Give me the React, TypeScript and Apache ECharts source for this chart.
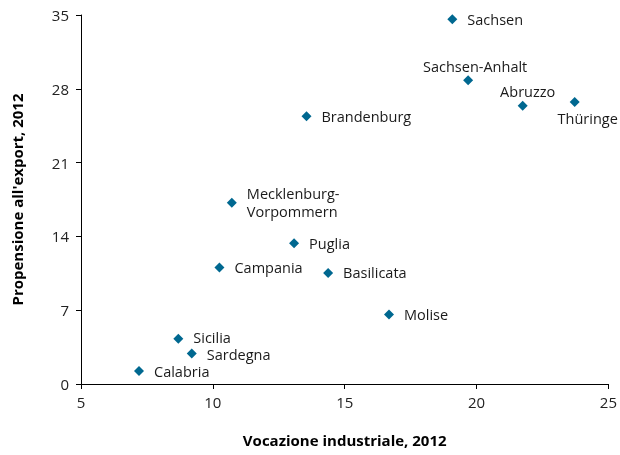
import React, { useEffect, useRef } from "react";
import * as echarts from "echarts";

const regions = ["Sachsen", "Sachsen-Anhalt", "Abruzzo", "Thüringe", "Brandenburg", "Mecklenburg-\nVorpommern", "Puglia", "Campania", "Basilicata", "Molise", "Sicilia", "Sardegna", "Calabria"];
const vocazione = [19.08, 19.68, 21.75, 23.72, 13.55, 10.72, 13.08, 10.25, 14.37, 16.68, 8.69, 9.2, 7.2];
const propensione = [34.6, 28.8, 26.4, 26.75, 25.4, 17.2, 13.34, 11.06, 10.53, 6.6, 4.3, 2.9, 1.23];
const labelPos: Record<string, any> = {
  "Sachsen-Anhalt": { position: "top", distance: 2, offset: [7, 0] },
  "Abruzzo": { position: "top", distance: 2, offset: [5, 0] },
  "Thüringe": { position: "bottom", distance: 5, offset: [13, 0] },
  "Mecklenburg-\nVorpommern": { lineHeight: 18 },
  "Sicilia": { offset: [0, -1] },
  "Sardegna": { offset: [0, 1] },
};

export default function App() {
  const ref = useRef<HTMLDivElement>(null);
  useEffect(() => {
    const chart = echarts.init(ref.current!, null, { renderer: "svg" });
    const font = "'Open Sans', 'Noto Sans', sans-serif";
    chart.setOption({
      animation: false,
      textStyle: { fontFamily: font },
      grid: { left: 81, right: 11, top: 15, bottom: 71, containLabel: false },
      xAxis: {
        type: "value", min: 5, max: 25, interval: 5,
        name: "Vocazione industriale, 2012", nameLocation: "middle", nameGap: 48,
        nameTextStyle: { fontFamily: font, fontSize: 15, fontWeight: "bold", color: "#000" },
        axisLine: { show: true, lineStyle: { color: "#000", width: 1 } },
        axisTick: { show: true, length: 5, lineStyle: { color: "#000" } },
        axisLabel: { fontFamily: font, fontSize: 15, color: "#222", margin: 10 },
        splitLine: { show: false },
      },
      yAxis: {
        type: "value", min: 0, max: 35, interval: 7,
        name: "Propensione all'export, 2012", nameLocation: "middle", nameGap: 57,
        nameTextStyle: { fontFamily: font, fontSize: 15, fontWeight: "bold", color: "#000" },
        axisLine: { show: true, lineStyle: { color: "#000", width: 1 } },
        axisTick: { show: true, length: 5, lineStyle: { color: "#000" } },
        axisLabel: { fontFamily: font, fontSize: 15, color: "#222", margin: 12 },
        splitLine: { show: false },
      },
      series: [{
        type: "scatter",
        symbol: "diamond",
        symbolSize: 10,
        itemStyle: { color: "#006890", opacity: 1 },
        label: {
          show: true, position: "right", distance: 10,
          formatter: (p: any) => p.data.name,
          fontFamily: font, fontSize: 14.5, color: "#1a1a1a", lineHeight: 14,
        },
        data: regions.map((r, i) => ({
          name: r,
          value: [vocazione[i], propensione[i]],
          label: labelPos[r] || undefined,
        })),
      }],
    });
    return () => chart.dispose();
  }, []);
  return <div ref={ref} style={{ position: "fixed", left: 0, top: 0, width: 620, height: 455 }} />;
}
